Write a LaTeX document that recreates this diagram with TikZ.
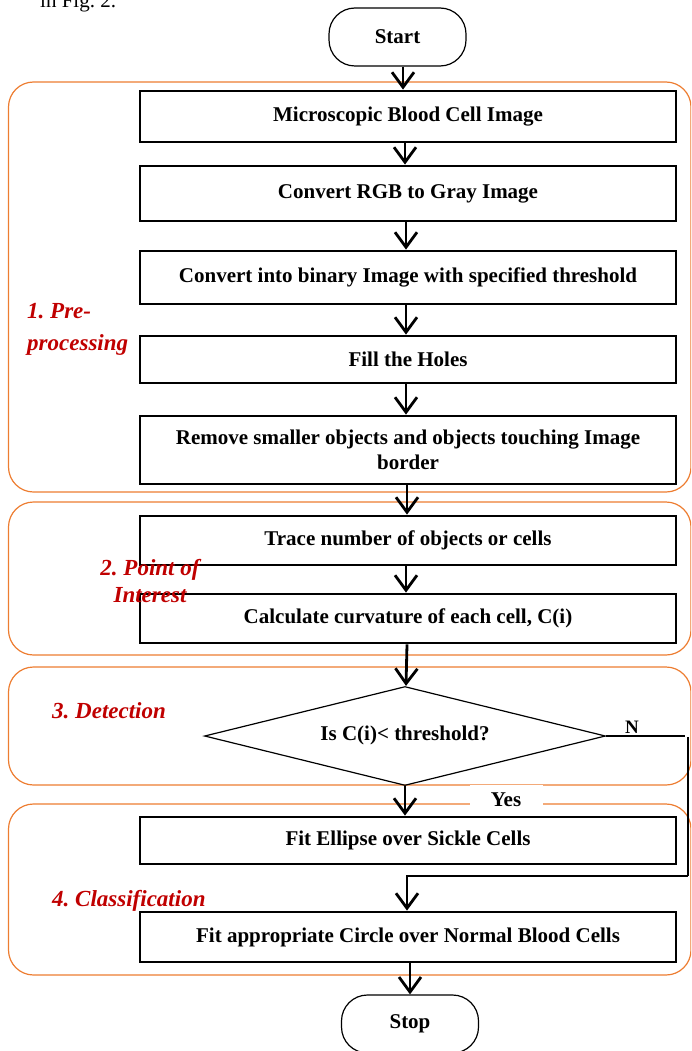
\documentclass[tikz,border=0pt]{standalone}
\usepackage{fontspec}
\setmainfont{Liberation Serif}
\usetikzlibrary{shapes.geometric,arrows.meta}
\definecolor{grouporange}{HTML}{ED7D31}
\definecolor{labelred}{HTML}{C00000}
\newcommand\boxfont{\fontsize{21}{25}\selectfont\bfseries}
\newcommand\stagefont{\fontsize{23}{27}\selectfont\bfseries\itshape}
\frenchspacing

\begin{document}
\begin{tikzpicture}[x=1pt,y=-1pt,
  stepbox/.style={draw, line width=2.8pt, minimum width=536pt, inner sep=2pt,
    font=\boxfont, align=center},
  terminal/.style={draw, line width=1.2pt, rounded corners=26pt,
    minimum width=137pt, minimum height=58pt, font=\boxfont},
  decision/.style={draw, diamond, shape aspect=4, line width=1.2pt, inner sep=0pt,
    minimum width=401pt, minimum height=99pt, font=\boxfont},
  stage/.style={draw=grouporange, line width=1.2pt, rounded corners=25pt},
  stagelabel/.style={text=labelred, font=\stagefont, inner sep=0pt},
  arr/.style={line width=2.8pt, -{Straight Barb[length=15pt,width=22pt,line width=2.8pt]}},
]
\useasboundingbox (0,0) rectangle (691,1051);
\clip (0,0) rectangle (691,1051);

% text of the paper running above the chart
\node[anchor=base west, inner sep=0pt, font=\fontsize{21}{25}\selectfont] (figref) at (40,8) {in Fig. 2.};

% stage frames
\draw[stage] (8.5,82) rectangle (691,492);
\draw[stage] (8.5,502) rectangle (691,655);
\draw[stage] (8.5,667) rectangle (691,785);
\draw[stage] (8.5,804) rectangle (691,975);

% terminals
\node[terminal] (start) at (397.5,37) {Start};
\node[terminal] (stop) at (410,1024) {\raisebox{5pt}{Stop}};

% process steps
\node[stepbox, minimum height=51pt] (b1) at (408,116.5) {Microscopic Blood Cell Image};
\node[stepbox, minimum height=55pt] (b2) at (408,193.5) {\raisebox{3pt}{Convert RGB to Gray Image}};
\node[stepbox, minimum height=53pt] (b3) at (408,277.5) {Convert into binary Image with specified threshold};
\node[stepbox, minimum height=47pt] (b4) at (408,359.5) {Fill the Holes};
\node[stepbox, minimum height=68pt] (b5) at (408,450) {Remove smaller objects and objects touching Image\\border};
\node[stepbox, minimum height=49pt] (b6) at (408,540.5) {Trace number of objects or cells};
\node[stepbox, minimum height=49pt] (b7) at (408,618.5) {Calculate curvature of each cell, C(i)};
\node[decision] (dec) at (405,736) {\raisebox{6pt}{Is C(i)< threshold?}};
\node[stepbox, minimum height=47pt] (b8) at (408,840.5) {Fit Ellipse over Sickle Cells};
\node[stepbox, minimum height=50pt] (b9) at (408,937) {Fit appropriate Circle over Normal Blood Cells};

% stage labels
\node[stagelabel, anchor=west, align=left, font=\fontsize{23}{32}\selectfont\bfseries\itshape] (l1) at (27,329) {1. Pre-\\processing};
\node[stagelabel, align=center] (l2) at (150,581.5) {2. Point of\\Interest};
\node[stagelabel, anchor=west] (l3) at (52,711) {3. Detection};
\node[stagelabel, anchor=west] (l4) at (52,901) {4. Classification};

% main flow
\draw[arr] ([xshift=5.5pt]start.south) -- ([xshift=-5pt]b1.north);
\draw[arr] ([xshift=-3pt]b1.south) -- ([xshift=-3pt]b2.north);
\draw[arr] ([xshift=-2pt]b2.south) -- ([xshift=-2pt]b3.north);
\draw[arr] ([xshift=-2pt]b3.south) -- ([xshift=-2pt]b4.north);
\draw[arr] ([xshift=-2pt]b4.south) -- ([xshift=-2pt]b5.north);
\draw[arr] ([xshift=-1pt]b5.south) -- ([xshift=-1pt]b6.north);
\draw[arr] ([xshift=-2pt]b6.south) -- ([xshift=-2pt]b7.north);
\draw[arr] ([xshift=-1pt]b7.south) -- ([xshift=1pt]dec.north);
\draw[arr] (dec.south) -- ([xshift=-3pt]b8.north);
\draw[arr] ([xshift=2pt]b9.south) -- (stop.north);

% "no" branch round the ellipse step
\coordinate (nend) at (685,736);
\coordinate (rtop) at (688,737);
\coordinate (rbot) at (688,876);
\draw[line width=1.2pt] (dec.east) -- (nend);
\node[font=\fontsize{19}{22}\selectfont\bfseries, inner sep=0pt] (nlab) at (632,727) {N};
\draw[line width=2pt] (rtop) -- (rbot);
\draw[arr] (rbot) -| ([xshift=-1pt]b9.north);

% "yes" label over the frame edges
\node[fill=white, minimum width=73pt, minimum height=31pt, inner sep=0pt, font=\boxfont] (yes) at (506,800) {Yes};
\end{tikzpicture}
\end{document}
